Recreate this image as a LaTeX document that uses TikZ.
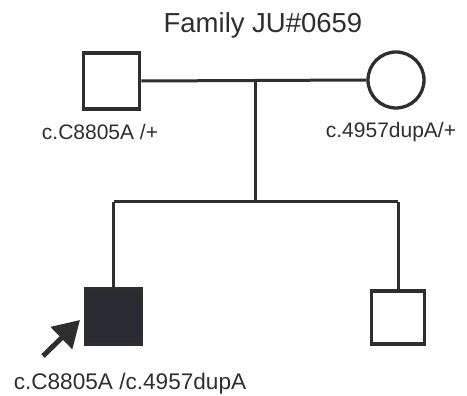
\documentclass[tikz,border=0pt]{standalone}
\usepackage{fontspec}
\setmainfont{Liberation Sans}
\usetikzlibrary{arrows.meta}
\definecolor{ink}{HTML}{2E2E2E}
\definecolor{aff}{HTML}{2A2B30}
\begin{document}
\begin{tikzpicture}[x=1pt,y=-1pt,
  line width=3pt,
  male/.style={draw=ink,rectangle,minimum size=#1,inner sep=0pt,line width=3.6pt},
  female/.style={draw=ink,circle,minimum size=56pt,inner sep=0pt,line width=3.3pt},
  lbl/.style={font=\fontsize{21}{24}\selectfont,text=ink,inner sep=0pt},
  conn/.style={draw=ink,line width=3pt}]
\useasboundingbox (0,0) rectangle (467,396);
\node[font=\fontsize{27.5}{30}\selectfont,text=ink,inner sep=0pt] (title) at (263,25) {Family JU\#0659};
\node[male=56pt] (father) at (111.5,81) {};
\node[female] (mother) at (396,80) {};
\node[lbl] (flab) at (100,132) {c.C8805A /+};
\node[lbl] (mlab) at (391,132) {c.4957dupA/+};
\coordinate (mate) at (255,80);
\coordinate (sib) at (255,202);
\coordinate (sibL) at (113.5,202);
\coordinate (sibR) at (398,202);
\node[male=56pt,fill=aff] (son1) at (113.5,316.5) {};
\node[male=53pt] (son2) at (398,317.5) {};
\node[lbl,font=\fontsize{22.6}{25}\selectfont] (slab) at (130,384) {c.C8805A /c.4957dupA};
\draw[conn] (father.east) -- (mother.west);
\draw[conn] (mate) -- (sib);
\draw[conn] (sibL) -- (sibR);
\draw[conn] (sibL) -- (son1.north);
\draw[conn] (sibR) -- (son2.north);
\coordinate (tail) at (43,356);
\coordinate (tip) at (80,320);
\draw[draw=ink,line width=5pt,-{Triangle[length=26pt,width=30pt,fill=ink]}] (tail) -- (tip);
\end{tikzpicture}
\end{document}
